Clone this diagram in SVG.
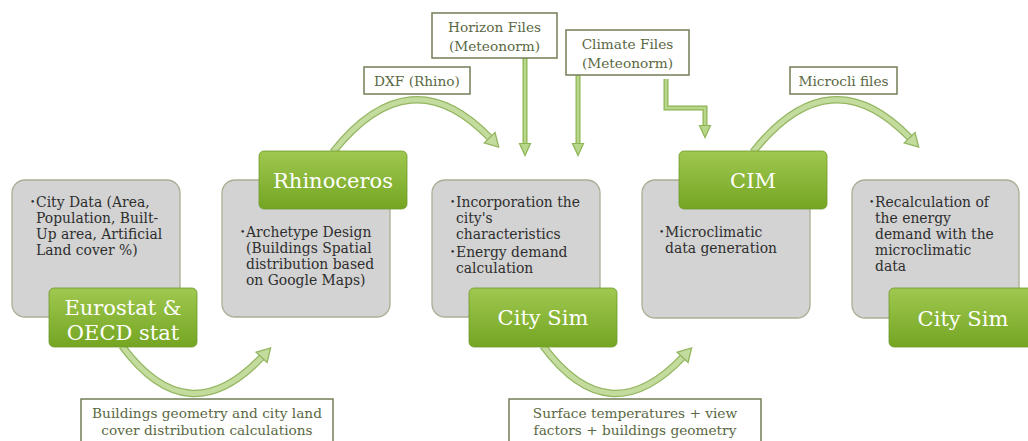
<svg xmlns="http://www.w3.org/2000/svg" width="1028" height="441" viewBox="0 0 1028 441">
<defs>
<linearGradient id="gg" x1="0" y1="0" x2="0" y2="1">
<stop offset="0" stop-color="#9fc850"/>
<stop offset="1" stop-color="#74a522"/>
</linearGradient>
<marker id="ahL" markerUnits="userSpaceOnUse" markerWidth="22" markerHeight="22" viewBox="-3 -11 22 22" refX="0.5" refY="0" orient="auto" overflow="visible">
<path d="M0,-7.5 L13,0 L0,7.5 z" fill="#c4db9e" stroke="#93b660" stroke-width="1.3" stroke-linejoin="miter"/>
</marker>
<marker id="ahS" markerUnits="userSpaceOnUse" markerWidth="22" markerHeight="22" viewBox="-3 -11 22 22" refX="0.5" refY="0" orient="auto" overflow="visible">
<path d="M0,-5.5 L12,0 L0,5.5 z" fill="#b8d78a" stroke="#8cb452" stroke-width="1.2"/>
</marker>
</defs>
<style>
.gray{fill:#d3d3d3;stroke:#a8b094;stroke-width:1.3}
.green{fill:url(#gg);stroke:#6f9b2c;stroke-width:0.8}
.lab{fill:#ffffff;stroke:#737e58;stroke-width:1.5}
.bt{font-family:"DejaVu Serif","Liberation Serif",serif;font-size:13.9px;fill:#2e2e2e}
.bl{font-family:"DejaVu Serif","Liberation Serif",serif;font-size:9px;fill:#2e2e2e}
.gt{font-family:"DejaVu Serif","Liberation Serif",serif;font-size:21px;fill:#ffffff;text-anchor:middle}
.lt{font-family:"DejaVu Serif","Liberation Serif",serif;font-size:13.7px;fill:#5b6843;text-anchor:middle}
.outL{fill:none;stroke:#93b660;stroke-width:7.5}
.inL{fill:none;stroke:#c4db9e;stroke-width:5}
.outS{fill:none;stroke:#8cb452;stroke-width:5}
.inS{fill:none;stroke:#b8d78a;stroke-width:2.6}
</style>
<rect width="1028" height="441" fill="#ffffff"/>

<g id="connectors">
<path class="outL" d="M333,152 Q410,55 490,138"/>
<path class="inL" d="M333,152 Q410,55 490,138" marker-end="url(#ahL)"/>
<path class="outL" d="M753,152 Q830,55 910,138"/>
<path class="inL" d="M753,152 Q830,55 910,138" marker-end="url(#ahL)"/>
<path class="outL" d="M122,346 Q188,435 262,357"/>
<path class="inL" d="M122,346 Q188,435 262,357" marker-end="url(#ahL)"/>
<path class="outL" d="M543,346 Q609,435 683,357"/>
<path class="inL" d="M543,346 Q609,435 683,357" marker-end="url(#ahL)"/>
<path class="outS" d="M525,58 V144"/>
<path class="inS" d="M525,58 V144" marker-end="url(#ahS)"/>
<path class="outS" d="M578,75 V144"/>
<path class="inS" d="M578,75 V144" marker-end="url(#ahS)"/>
<path class="outS" d="M666,79 V108 H705 V126" stroke-linejoin="miter"/>
<path class="inS" d="M666,79 V108 H705 V126" marker-end="url(#ahS)"/>
</g>

<g id="node-eurostat">
<rect class="gray" x="12" y="180" width="168" height="137" rx="13"/>
<text class="bl" x="30" y="205">•</text>
<text class="bt" x="36" y="207">City Data (Area,</text>
<text class="bt" x="36" y="223">Population, Built-</text>
<text class="bt" x="36" y="239">Up area, Artificial</text>
<text class="bt" x="36" y="255">Land cover %)</text>
<rect class="green" x="49" y="288" width="148" height="59" rx="5"/>
<text class="gt" x="123" y="315">Eurostat &amp;</text>
<text class="gt" x="123" y="340">OECD stat</text>
</g>

<g id="node-rhinoceros">
<rect class="gray" x="222" y="180" width="168" height="137" rx="13"/>
<rect class="green" x="259" y="151" width="148" height="58" rx="5"/>
<text class="gt" x="333" y="188">Rhinoceros</text>
<text class="bl" x="240" y="235">•</text>
<text class="bt" x="246" y="237">Archetype Design</text>
<text class="bt" x="246" y="253">(Buildings Spatial</text>
<text class="bt" x="246" y="269">distribution based</text>
<text class="bt" x="246" y="285">on Google Maps)</text>
</g>

<g id="node-citysim1">
<rect class="gray" x="432" y="180" width="168" height="137" rx="13"/>
<text class="bl" x="450" y="205">•</text>
<text class="bt" x="456" y="207">Incorporation the</text>
<text class="bt" x="456" y="223">city's</text>
<text class="bt" x="456" y="239">characteristics</text>
<text class="bl" x="450" y="255">•</text>
<text class="bt" x="456" y="257">Energy demand</text>
<text class="bt" x="456" y="273">calculation</text>
<rect class="green" x="469" y="288" width="148" height="59" rx="5"/>
<text class="gt" x="543" y="325">City Sim</text>
</g>

<g id="node-cim">
<rect class="gray" x="642" y="180" width="168" height="138" rx="13"/>
<rect class="green" x="679" y="151" width="148" height="58" rx="5"/>
<text class="gt" x="753" y="188">CIM</text>
<text class="bl" x="659" y="235">•</text>
<text class="bt" x="665" y="237">Microclimatic</text>
<text class="bt" x="665" y="253">data generation</text>
</g>

<g id="node-citysim2">
<rect class="gray" x="852" y="180" width="167" height="138" rx="13"/>
<text class="bl" x="869" y="205">•</text>
<text class="bt" x="875" y="207">Recalculation of</text>
<text class="bt" x="875" y="223">the energy</text>
<text class="bt" x="875" y="239">demand with the</text>
<text class="bt" x="875" y="255">microclimatic</text>
<text class="bt" x="875" y="271">data</text>
<rect class="green" x="889" y="288" width="148" height="59" rx="5"/>
<text class="gt" x="963" y="326">City Sim</text>
</g>

<g id="label-dxf">
<rect class="lab" x="364" y="67" width="106" height="27"/>
<text class="lt" x="417" y="86">DXF (Rhino)</text>
</g>
<g id="label-horizon">
<rect class="lab" x="432" y="13" width="125" height="45"/>
<text class="lt" x="494.5" y="32">Horizon Files</text>
<text class="lt" x="494.5" y="51">(Meteonorm)</text>
</g>
<g id="label-climate">
<rect class="lab" x="566" y="30" width="123" height="45"/>
<text class="lt" x="627.5" y="49">Climate Files</text>
<text class="lt" x="627.5" y="68">(Meteonorm)</text>
</g>
<g id="label-microcli">
<rect class="lab" x="790" y="67" width="107" height="27"/>
<text class="lt" x="843.5" y="86">Microcli files</text>
</g>
<g id="label-buildings">
<rect class="lab" x="81" y="399" width="252" height="50"/>
<text class="lt" x="207" y="418">Buildings geometry and city land</text>
<text class="lt" x="207" y="435">cover distribution calculations</text>
</g>
<g id="label-surface">
<rect class="lab" x="509" y="399" width="252" height="50"/>
<text class="lt" x="635" y="418">Surface temperatures + view</text>
<text class="lt" x="635" y="435">factors + buildings geometry</text>
</g>
</svg>
